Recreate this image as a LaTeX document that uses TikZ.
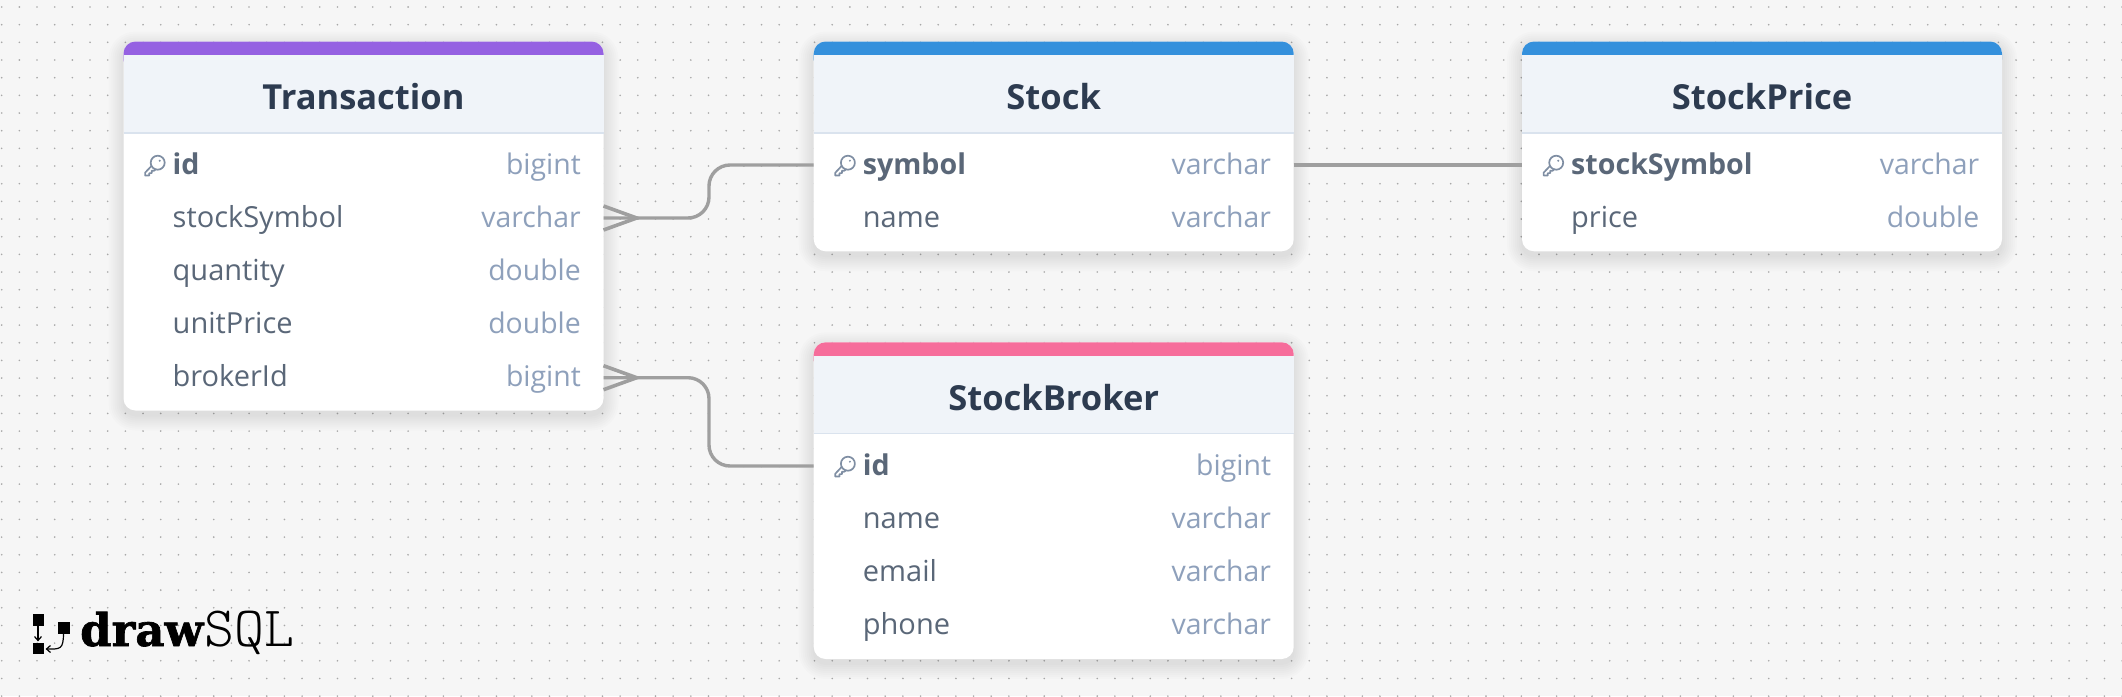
\documentclass[tikz,border=0pt]{standalone}
\usepackage{fontspec}
\usetikzlibrary{calc}
\setmainfont{Open Sans}
\newfontfamily\logobold[FakeBold=1.5]{DejaVu Serif Bold}
\definecolor{pagebg}{HTML}{F6F6F6}
\definecolor{griddot}{HTML}{A8A8A8}
\definecolor{purpleband}{HTML}{9561E2}
\definecolor{blueband}{HTML}{3490DC}
\definecolor{pinkband}{HTML}{F66D9B}
\definecolor{headbg}{HTML}{F0F4F9}
\definecolor{headline}{HTML}{DAE3EE}
\definecolor{titlecol}{HTML}{2D3B50}
\definecolor{fieldcol}{HTML}{5A6778}
\definecolor{typecol}{HTML}{8EA0BB}
\definecolor{keycol}{HTML}{7F8EA3}
\definecolor{linkcol}{HTML}{9F9F9F}
\tikzset{
  x=1pt,y=-1pt,
  title/.style={font=\fontsize{34.5}{34.5}\selectfont\bfseries,text=titlecol,anchor=center,inner sep=0pt},
  fieldname/.style={font=\fontsize{29}{29}\selectfont,text=fieldcol,anchor=base west,inner sep=0pt},
  keyname/.style={font=\fontsize{28.6}{29}\selectfont\bfseries,text=fieldcol,anchor=base west,inner sep=0pt},
  fieldtype/.style={font=\fontsize{28.4}{29}\selectfont,text=typecol,anchor=base east,inner sep=0pt},
  link/.style={draw=linkcol,line width=3.4pt,rounded corners=21pt},
  foot/.style={draw=linkcol,line width=3.6pt},
}
\newcommand{\tablebox}[6]{%
  \foreach \gr in {15,13,11,9,7,5,3,1}{
    \fill[black,opacity=0.012,rounded corners=12pt+\gr] (#2-\gr,#3+5-\gr) rectangle (#2+480+\gr,#4+5+\gr);
  }
  \path[fill=white,rounded corners=12pt] (#2,#3) rectangle (#2+480,#4);
  \fill[#5,rounded corners=12pt] (#2,#3) rectangle (#2+480,#3+30);
  \fill[headbg] (#2,#3+13.5) rectangle (#2+480,#3+91);
  \draw[headline,line width=1.3pt] (#2,#3+91.5) -- (#2+480,#3+91.5);
  \node[title] (#1) at (#2+240,#3+55) {#6};
}
\newcommand{\fieldrow}[5]{%
  \node[fieldname] (#1-n) at (#2+49,#3+9.5) {#4};
  \node[fieldtype] (#1-t) at (#2+457.5,#3+9.5) {#5};
}
\newcommand{\keyrow}[5]{%
  \node[keyname] (#1-n) at (#2+49,#3+9.5) {#4};
  \node[fieldtype] (#1-t) at (#2+457.5,#3+9.5) {#5};
  \begin{scope}[shift={(#2+31,#3+0.7)},draw=keycol,line width=1.7pt,line cap=round,line join=round]
    \draw (3.2,-3) circle[radius=7];
    \draw (-3,0.2) -- (-9.4,7) -- (-9.4,9.8) -- (-5.2,9.8) -- (-5.2,7.4) -- (-2.8,7.4) -- (-2.8,5) -- (-0.4,5) -- (1.2,3.6);
    \fill[keycol] (5.2,-5) circle[radius=1.1];
  \end{scope}
}
\begin{document}
\begin{tikzpicture}
\useasboundingbox (0,0) rectangle (2122,696);
\fill[pagebg] (0,0) rectangle (2122,696);
\foreach \i in {0,...,120}{
  \foreach \j in {0,...,39}{
    \fill[griddot] (1.7+17.67*\i,7+17.67*\j) circle[radius=0.9];
  }
}
% Transaction
\tablebox{tx}{123.5}{41.5}{410.5}{purpleband}{Transaction}
\keyrow{txid}{123.5}{165}{id}{bigint}
\fieldrow{txsym}{123.5}{218}{stockSymbol}{varchar}
\fieldrow{txqty}{123.5}{271}{quantity}{double}
\fieldrow{txprice}{123.5}{324}{unitPrice}{double}
\fieldrow{txbrk}{123.5}{377}{brokerId}{bigint}
% Stock
\tablebox{st}{813.7}{41.5}{251.3}{blueband}{Stock}
\keyrow{stsym}{813.7}{165}{symbol}{varchar}
\fieldrow{stname}{813.7}{218}{name}{varchar}
% StockPrice
\tablebox{sp}{1522}{41.5}{251.3}{blueband}{StockPrice}
\keyrow{spsym}{1522}{165}{stockSymbol}{varchar}
\fieldrow{spprice}{1522}{218}{price}{double}
% StockBroker
\tablebox{sb}{813.7}{342.3}{659}{pinkband}{StockBroker}
\keyrow{sbid}{813.7}{466}{id}{bigint}
\fieldrow{sbname}{813.7}{519}{name}{varchar}
\fieldrow{sbmail}{813.7}{572}{email}{varchar}
\fieldrow{sbphone}{813.7}{625}{phone}{varchar}
% ports
\coordinate (txsymport) at (603.5,218);
\coordinate (txsymtip) at (636.7,218);
\coordinate (txbrkport) at (603.5,377.7);
\coordinate (txbrktip) at (636.7,377.7);
\coordinate (stsymport) at (813.7,165);
\coordinate (stsymout) at (1293.7,165);
\coordinate (spsymport) at (1522,165);
\coordinate (sbidport) at (813.7,466);
% connectors
\draw[link] (txsymport) -- (709,218) -- (709,165) -- (stsymport);
\draw[foot] ($(txsymport)+(0,-12)$) -- (txsymtip) -- ($(txsymport)+(0,12)$);
\draw[link] (txbrkport) -- (709,377.7) -- (709,466) -- (sbidport);
\draw[foot] ($(txbrkport)+(0,-12)$) -- (txbrktip) -- ($(txbrkport)+(0,12)$);
\draw[link] (stsymout) -- (spsymport);
% logo
\fill[black] (32.5,614) rectangle (44,625.5);
\fill[black] (32.5,643) rectangle (44,654);
\fill[black] (58,622) rectangle (70,633.5);
\draw[black,line width=1.2pt] (38,625) -- (38,640);
\draw[black,line width=1.2pt] (34.5,636.5) -- (38,640.5) -- (41.5,636.5);
\draw[black,line width=1.2pt] (63.5,633) .. controls (63.5,650) and (60,649) .. (47,649);
\draw[black,line width=1.2pt] (50.5,645.5) -- (46.5,649) -- (50.5,652.5);
\node[inner sep=0pt,anchor=base west,font=\logobold\fontsize{45}{45}\selectfont] (logodraw) at (80,646) {draw};
\node[inner sep=0pt,anchor=base east,font=\ttfamily\fontseries{l}\fontsize{57}{57}\selectfont] (logosql) at (294.5,646) {SQL};
\end{tikzpicture}
\end{document}
